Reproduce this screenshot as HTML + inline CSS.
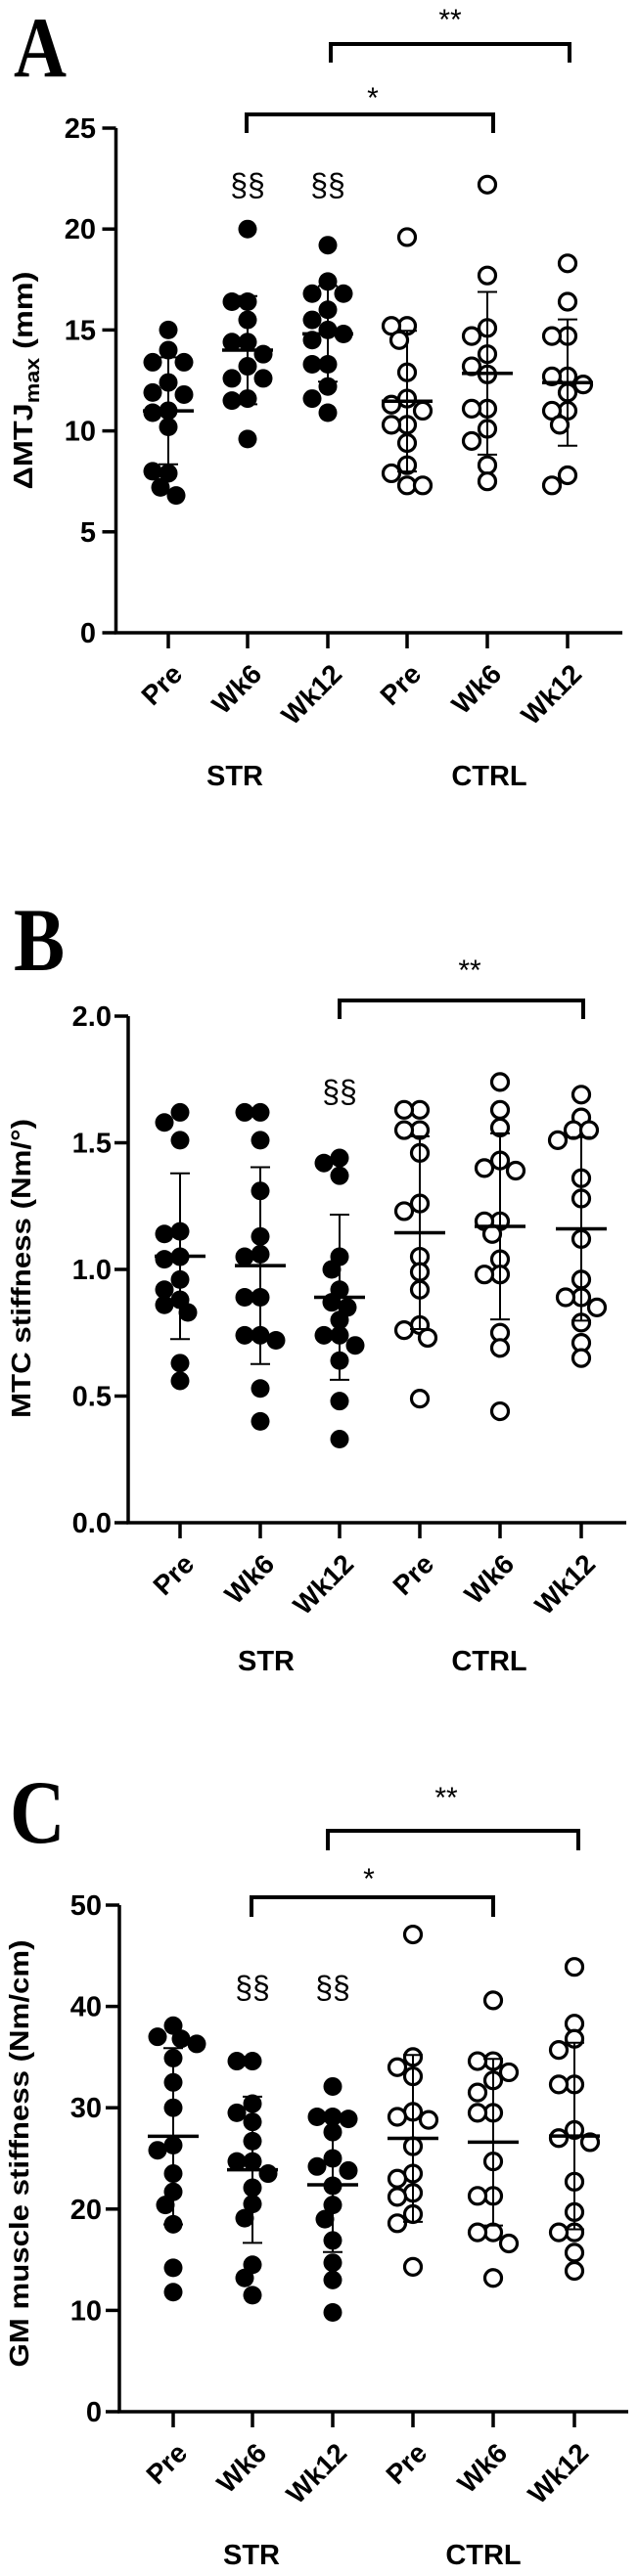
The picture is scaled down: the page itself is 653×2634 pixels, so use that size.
<!DOCTYPE html>
<html><head><meta charset="utf-8"><style>
html,body{margin:0;padding:0;background:#fff}
svg{display:block}
</style></head><body>
<svg id="fig" width="653" height="2634" viewBox="0 0 653 2634" xmlns="http://www.w3.org/2000/svg" font-family="Liberation Sans, Arial, sans-serif"></svg>
<script>
const categories = ["Pre","Wk6","Wk12","Pre","Wk6","Wk12"];
const groupLabels = ["STR","CTRL"];
const ticksA = [0,5,10,15,20,25];
const tickLabelsA = ["0","5","10","15","20","25"];
const ticksB = [0,0.5,1.0,1.5,2.0];
const tickLabelsB = ["0.0","0.5","1.0","1.5","2.0"];
const ticksC = [0,10,20,30,40,50];
const tickLabelsC = ["0","10","20","30","40","50"];

const strPreA = [15.0,14.0,13.4,13.4,12.4,11.9,11.8,11.0,10.9,10.2,7.9,8.0,7.2,6.8];
const strWk6A = [20.0,16.4,16.4,15.5,14.4,14.4,13.8,13.2,12.6,12.6,11.6,11.5,9.6];
const strWk12A = [19.2,17.4,16.8,16.8,16.0,15.5,15.0,14.8,14.5,13.3,13.3,12.2,11.6,10.9];
const ctrlPreA = [19.6,15.2,15.2,14.5,12.9,11.6,11.3,11.0,10.3,10.3,9.4,8.3,7.9,7.3,7.3];
const ctrlWk6A = [22.2,17.7,15.1,14.7,13.8,13.2,12.8,11.1,11.1,10.1,9.5,8.3,7.5];
const ctrlWk12A = [18.3,16.4,14.7,14.7,12.7,12.7,12.3,11.9,11.0,11.0,10.3,7.8,7.3];

const strPreB = [1.62,1.58,1.51,1.15,1.14,1.05,1.04,0.96,0.92,0.88,0.86,0.83,0.63,0.56];
const strWk6B = [1.62,1.62,1.51,1.31,1.13,1.06,1.05,0.89,0.89,0.74,0.74,0.72,0.53,0.40];
const strWk12B = [1.44,1.42,1.37,1.05,1.00,0.92,0.87,0.85,0.80,0.74,0.74,0.70,0.64,0.48,0.33];
const ctrlPreB = [1.63,1.63,1.55,1.55,1.46,1.26,1.23,1.05,0.99,0.92,0.78,0.76,0.73,0.49];
const ctrlWk6B = [1.74,1.63,1.56,1.43,1.40,1.39,1.19,1.19,1.14,1.04,0.98,0.98,0.75,0.69,0.44];
const ctrlWk12B = [1.69,1.60,1.55,1.55,1.51,1.36,1.28,1.12,0.96,0.89,0.89,0.85,0.79,0.71,0.65];

const strPreC = [38.1,37.0,36.8,36.3,34.9,32.5,30.0,26.3,25.8,23.5,21.7,20.4,18.5,14.2,11.8];
const strWk6C = [34.6,34.6,30.4,29.5,28.6,26.7,24.7,24.7,23.5,22.1,20.5,19.1,14.5,13.2,11.5];
const strWk12C = [32.1,29.1,29.1,28.9,27.6,25.0,24.2,23.8,22.3,20.4,19.0,16.9,14.7,13.0,9.8];
const ctrlPreC = [47.1,35.0,34.0,33.1,29.6,29.1,28.8,26.2,23.5,23.0,21.6,21.2,19.5,18.6,14.3];
const ctrlWk6C = [40.6,34.6,34.6,33.5,32.7,31.5,29.5,29.5,24.7,21.3,21.3,17.7,17.7,16.6,13.2];
const ctrlWk12C = [43.9,38.3,36.8,35.7,32.3,32.3,27.8,27.0,26.6,22.7,19.7,17.7,17.7,15.7,13.9];

const NS="http://www.w3.org/2000/svg";
const svg=document.getElementById('fig');
function mk(tag,attrs,parent){const e=document.createElementNS(NS,tag);for(const k in attrs)e.setAttribute(k,attrs[k]);(parent||svg).appendChild(e);return e;}

function drawPanel(p){
  const g=mk('g',{});
  
  
  const y=v=>p.y0-(v-p.vmin)/(p.vmax-p.vmin)*(p.y0-p.y1);
  const x=i=>p.cats[i];
  const L=mk('text',{x:p.lx,y:p.ly,style:'font-family:"Liberation Serif",serif;font-weight:bold;font-size:'+p.lfs+'px',transform:`translate(${p.lx},0) scale(0.85,1) translate(${-p.lx},0)`},g);
  L.textContent=p.id;
  
  
  const ax=mk('path',{d:`M${p.ax},${y(p.ticks[p.ticks.length-1])}V${p.y0}H${p.axr}`,stroke:'#000','stroke-width':3.5,fill:'none'},g);
  
  
  p.ticks.forEach((t,i)=>{
    mk('line',{x1:p.ax-14,x2:p.ax,y1:y(t),y2:y(t),stroke:'#000','stroke-width':3.5},g);
    const tl=mk('text',{x:p.tlx,y:y(t)+10,'text-anchor':'end','font-weight':'bold','font-size':29},g);
    tl.textContent=p.tickLabels[i];
    
    
  });
  categories.forEach((c,i)=>{
    mk('line',{x1:x(i),x2:x(i),y1:p.y0,y2:p.y0+16,stroke:'#000','stroke-width':3.5},g);
    const t=mk('text',{x:x(i)+16,y:p.y0+44,'text-anchor':'end','font-weight':'bold','font-size':28,transform:`rotate(-45 ${x(i)+16} ${p.y0+44})`},g);
    t.textContent=c;
    
    
  });
  groupLabels.forEach((gl,i)=>{
    const t=mk('text',{x:p.glx[i],y:p.y0+p.gly,'text-anchor':'middle','font-weight':'bold','font-size':29},g);
    t.textContent=gl;
    
    
  });
  const yt=mk('text',{x:0,y:0,'text-anchor':'middle','font-weight':'bold','font-size':28,textLength:p.ytLen,lengthAdjust:'spacingAndGlyphs',transform:`translate(${p.ytx},${p.yty}) rotate(-90)`},g);
  yt.innerHTML=p.ytitle;
  
  
  p.series.forEach((vals,i)=>{
    const sg=mk('g',{},g);
    
    
    const placed=[];
    vals.forEach(v=>{
      const cy=y(v);
      let off=0;
      for(let k=0;k<20;k++){
        const o=(k%2?-1:1)*Math.ceil(k/2)*8;
        if(placed.every(q=>Math.hypot(q[0]-o,q[1]-cy)>=15)){off=o;break;}
      }
      placed.push([off,cy]);
      const c=mk('circle',{cx:x(i)+off,cy:cy,r:i<3?9.5:8.5,fill:i<3?'#000':'#fff',stroke:'#000','stroke-width':i<3?0:3.2},sg);
      
      
    });
    const m=vals.reduce((a,b)=>a+b,0)/vals.length;
    const sd=Math.sqrt(vals.reduce((a,b)=>a+(b-m)*(b-m),0)/(vals.length-1));
    const eb=mk('path',{d:`M${x(i)},${y(m+sd)}V${y(m-sd)}M${x(i)-10},${y(m+sd)}h20M${x(i)-10},${y(m-sd)}h20`,stroke:'#000','stroke-width':2,fill:'none'},sg);
    
    
    const ml=mk('line',{x1:x(i)-26,x2:x(i)+26,y1:y(m),y2:y(m),stroke:'#000','stroke-width':3.5},sg);
    
    
  });
  p.brackets.forEach(b=>{
    const br=mk('path',{d:`M${b.x1},${b.yl}V${b.y}H${b.x2}V${b.yl}`,stroke:'#000','stroke-width':4,fill:'none'},g);
    
    
    const t=mk('text',{x:b.tx,y:b.ty,'text-anchor':'middle','font-size':30},g);
    t.textContent=b.label;
    
    
  });
  p.sect.forEach(i=>{
    const t=mk('text',{x:x(i),y:p.secty,'text-anchor':'middle','font-size':32},g);
    t.textContent='§§';
    
    
  });
}

drawPanel({id:'A',lx:14,ly:78,lfs:88,vmin:0,vmax:25,y0:647,y1:131,ax:118.5,axr:636,tlx:98,
  cats:[172,253,335,416,498,580],ticks:ticksA,tickLabels:tickLabelsA,glx:[240,500],gly:156,
  ytx:33,yty:389,ytLen:223,ytitle:'ΔMTJ<tspan font-size="20" dy="7">max</tspan><tspan dy="-7"> (mm)</tspan>',
  series:[strPreA,strWk6A,strWk12A,ctrlPreA,ctrlWk6A,ctrlWk12A],
  brackets:[{x1:338,x2:582,y:45,yl:64,tx:460,ty:30,label:'**'},{x1:252,x2:504,y:117,yl:136,tx:381,ty:110,label:'*'}],
  sect:[1,2],secty:200});
drawPanel({id:'B',lx:14,ly:992,lfs:92,vmin:0,vmax:2,y0:1557,y1:1039,ax:131,axr:640,tlx:114,
  cats:[184,266,347,429,511,594],ticks:ticksB,tickLabels:tickLabelsB,glx:[272,500],gly:151,
  ytx:31,yty:1297,ytLen:306,ytitle:'MTC stiffness (Nm/°)',
  series:[strPreB,strWk6B,strWk12B,ctrlPreB,ctrlWk6B,ctrlWk12B],
  brackets:[{x1:347,x2:596,y:1023,yl:1042,tx:480,ty:1002,label:'**'}],
  sect:[2],secty:1127});
drawPanel({id:'C',lx:10,ly:1884,lfs:92,vmin:0,vmax:50,y0:2466,y1:1948,ax:122,axr:642,tlx:104,
  cats:[177,258,340,422,504,587],ticks:ticksC,tickLabels:tickLabelsC,glx:[257,494],gly:156,
  ytx:29,yty:2202,ytLen:437,ytitle:'GM muscle stiffness (Nm/cm)',
  series:[strPreC,strWk6C,strWk12C,ctrlPreC,ctrlWk6C,ctrlWk12C],
  brackets:[{x1:335,x2:591,y:1872,yl:1892,tx:456,ty:1848,label:'**'},{x1:257,x2:504,y:1940,yl:1960,tx:377,ty:1931,label:'*'}],
  sect:[1,2],secty:2043});
</script>
</body></html>
